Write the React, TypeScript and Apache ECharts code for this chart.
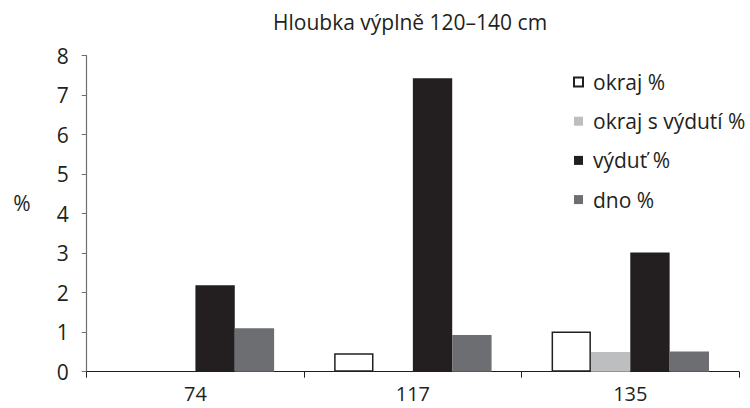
import React, { useEffect, useRef } from "react";
import * as echarts from "echarts";

const categories = ["74", "117", "135"];
const seriesNames = ["okraj %", "okraj s výdutí %", "výduť %", "dno %"];
const okraj = [null, 0.47, 1.02];
const okrajVydut = [null, null, 0.5];
const vydut = [2.19, 7.43, 3.02];
const dno = [1.1, 0.93, 0.51];
const title = "Hloubka výplně 120–140 cm";
const yName = "%";

const FONT = "'Open Sans', sans-serif";
const TEXT = "#231f20";

export default function App() {
  const ref = useRef<HTMLDivElement>(null);
  useEffect(() => {
    if (!ref.current) return;
    const chart = echarts.init(ref.current, undefined, { renderer: "svg" });
    const values = [okraj, okrajVydut, vydut, dno];
    const styles = [
      { color: "#ffffff", borderColor: "#231f20", borderWidth: 1.5 },
      { color: "#bcbec0" },
      { color: "#231f20" },
      { color: "#6d6e71" },
    ];
    chart.setOption({
      animation: false,
      textStyle: { fontFamily: FONT },
      title: {
        text: title,
        left: 273,
        top: 11,
        padding: 0,
        textStyle: { fontSize: 21, fontWeight: "normal", color: TEXT, fontFamily: FONT },
      },
      legend: {
        orient: "vertical",
        left: 573,
        top: 71.5,
        padding: 0,
        itemWidth: 9,
        itemHeight: 9,
        itemGap: 18.2,
        icon: "rect",
        textStyle: { fontSize: 21, color: TEXT, fontFamily: FONT, lineHeight: 21, padding: [0, 0, 0, 5] },
        data: seriesNames,
      },
      grid: { left: 86.7, right: 11, top: 55.7, bottom: 36.3, containLabel: false },
      xAxis: {
        type: "category",
        data: categories,
        axisLine: { lineStyle: { color: "#231f20", width: 1.2 } },
        axisTick: { show: true, length: 6, lineStyle: { color: "#231f20" } },
        axisLabel: { fontSize: 20, lineHeight: 20, color: TEXT, margin: 12, fontFamily: FONT },
      },
      yAxis: {
        type: "value",
        min: 0,
        max: 8,
        interval: 1,
        name: yName,
        nameLocation: "middle",
        nameRotate: 0,
        nameGap: 56,
        nameTextStyle: {
          fontSize: 21,
          color: TEXT,
          fontFamily: FONT,
          align: "right",
          verticalAlign: "bottom",
          lineHeight: 21,
        },
        axisLine: { show: true, lineStyle: { color: "#6d6e71", width: 1.2 } },
        axisTick: { show: true, length: 5, lineStyle: { color: "#6d6e71" } },
        splitLine: { show: false },
        axisLabel: { fontSize: 21, color: TEXT, margin: 18, fontFamily: FONT },
      },
      series: seriesNames.map((name, i) => ({
        name,
        type: "bar",
        data: values[i],
        barGap: "0%",
        barCategoryGap: "27.6%",
        itemStyle: styles[i],
      })),
    });
    return () => chart.dispose();
  }, []);
  return (
    <div
      ref={ref}
      style={{ position: "absolute", left: 0, top: 0, width: 750, height: 408, background: "#fff" }}
    />
  );
}
